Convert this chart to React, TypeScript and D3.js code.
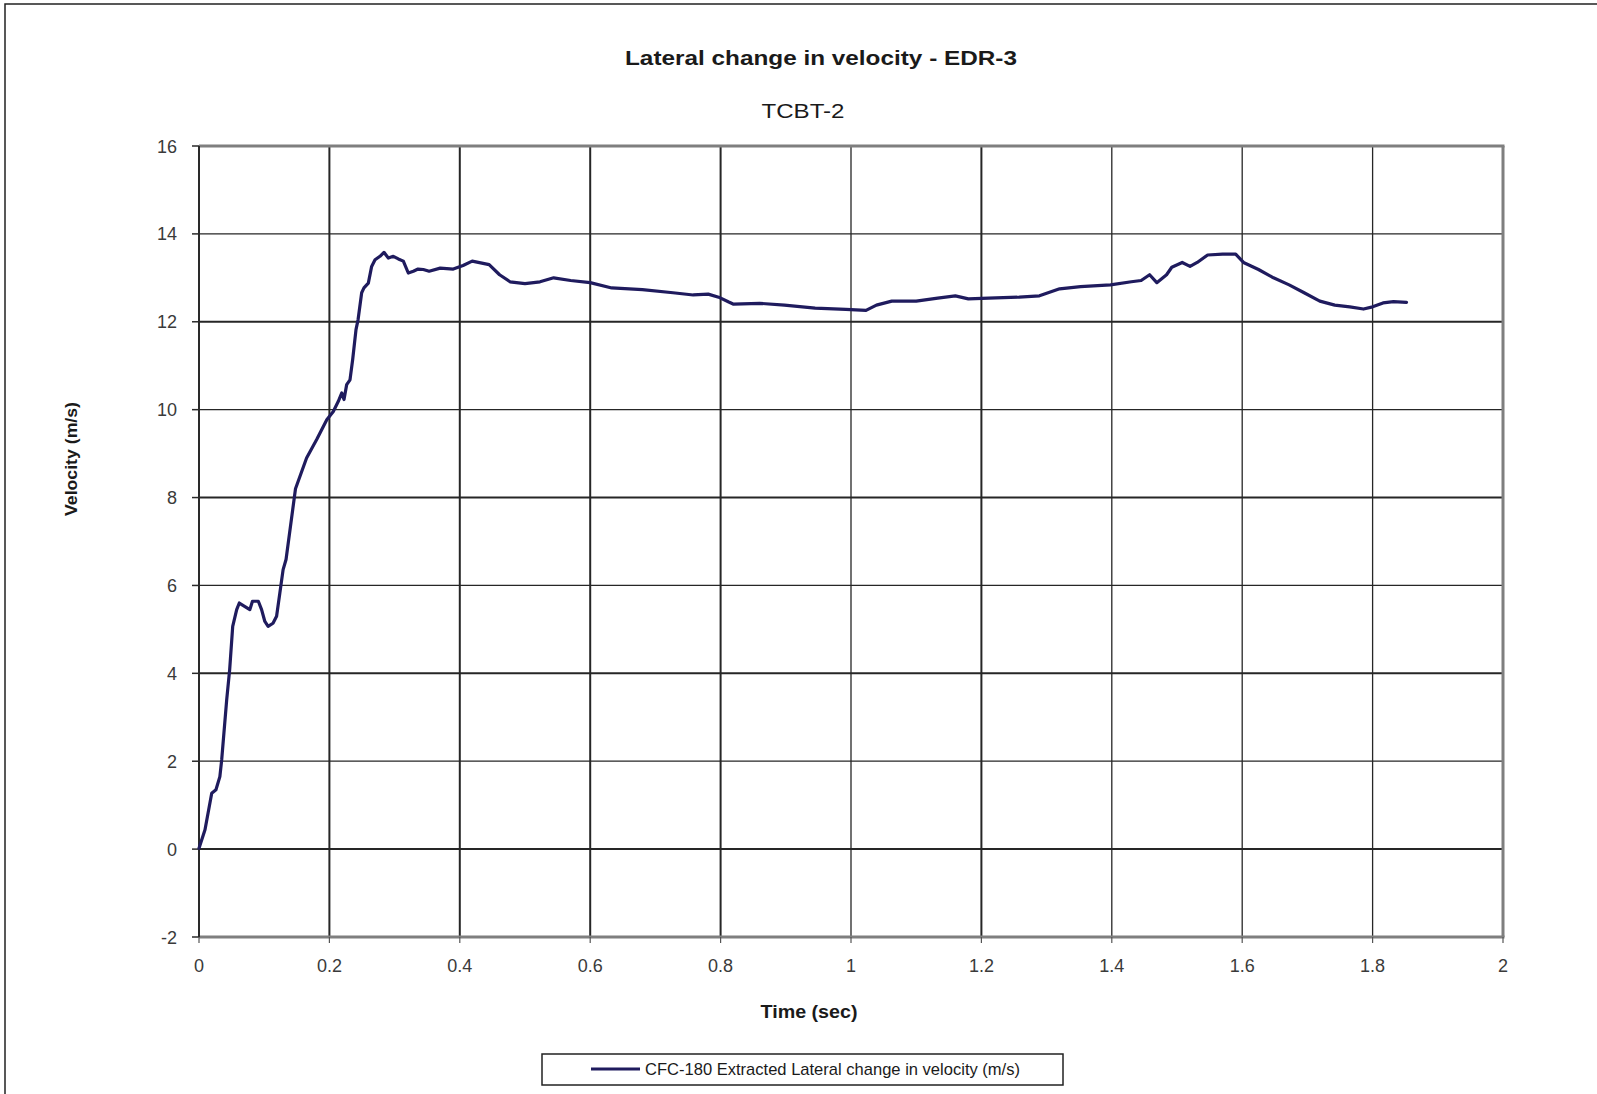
import React from "react";
import * as d3 from "d3";

const TITLE = "Lateral change in velocity - EDR-3";
const SUBTITLE = "TCBT-2";
const X_LABEL = "Time (sec)";
const Y_LABEL = "Velocity (m/s)";
const SERIES_NAME = "CFC-180 Extracted Lateral change in velocity (m/s)";

const xTicks = [0, 0.2, 0.4, 0.6, 0.8, 1, 1.2, 1.4, 1.6, 1.8, 2];
const yTicks = [-2, 0, 2, 4, 6, 8, 10, 12, 14, 16];

const timeSec = [
  0, 0.0092, 0.0195, 0.026, 0.032, 0.0348, 0.0425, 0.047, 0.0517, 0.0578, 0.0618,
  0.0705, 0.078, 0.082, 0.091, 0.096, 0.101, 0.106, 0.1135, 0.119, 0.124, 0.129,
  0.1335, 0.148, 0.165, 0.1805, 0.196, 0.206, 0.2137, 0.219, 0.2224, 0.2265, 0.2316,
  0.2357, 0.2408, 0.244, 0.2495, 0.253, 0.2597, 0.2648, 0.27, 0.2776, 0.2837, 0.2904,
  0.298, 0.3057, 0.3134, 0.321, 0.3287, 0.336, 0.344, 0.353, 0.37, 0.39, 0.405,
  0.419, 0.445, 0.461, 0.477, 0.5, 0.523, 0.544, 0.57, 0.6, 0.633, 0.68, 0.727,
  0.758, 0.781, 0.797, 0.8125, 0.82, 0.86, 0.898, 0.945, 0.992, 1.023, 1.039, 1.0625,
  1.1, 1.133, 1.16, 1.18, 1.211, 1.258, 1.289, 1.32, 1.352, 1.398, 1.43, 1.445,
  1.458, 1.469, 1.484, 1.492, 1.508, 1.52, 1.531, 1.547, 1.57, 1.59, 1.602, 1.625,
  1.648, 1.672, 1.695, 1.719, 1.742, 1.765, 1.786, 1.8, 1.816, 1.832, 1.852,
];

const velocity = [
  0.02, 0.44, 1.27, 1.35, 1.65, 2.03, 3.4, 4.08, 5.07, 5.45, 5.6,
  5.52, 5.45, 5.64, 5.64, 5.45, 5.18, 5.07, 5.14, 5.3, 5.83, 6.36,
  6.59, 8.2, 8.9, 9.32, 9.77, 9.96, 10.19, 10.38, 10.23, 10.57, 10.68,
  11.14, 11.82, 12.05, 12.66, 12.77, 12.88, 13.26, 13.41, 13.49, 13.58, 13.45,
  13.49, 13.43, 13.38, 13.11, 13.15, 13.2, 13.19, 13.15, 13.22, 13.2, 13.28,
  13.38, 13.3, 13.07, 12.91, 12.87, 12.91, 13.0, 12.94, 12.89, 12.77, 12.73, 12.66,
  12.61, 12.63, 12.56, 12.45, 12.4, 12.42, 12.38, 12.31, 12.28, 12.26, 12.38, 12.47,
  12.47, 12.54, 12.59, 12.52, 12.54, 12.56, 12.59, 12.75, 12.8, 12.84, 12.91, 12.94,
  13.07, 12.89, 13.07, 13.24, 13.35, 13.26, 13.35, 13.52, 13.54, 13.54, 13.35, 13.19,
  13.0, 12.84, 12.66, 12.47, 12.38, 12.34, 12.29, 12.34, 12.43, 12.46, 12.44,
];

const W = 1597;
const H = 1094;
const PL = 199, PR = 1503, PT = 146, PB = 937;
const FONT = "'Liberation Sans', Arial, Helvetica, sans-serif";
const LINE_COLOR = "#1f1b5e";

export default function App() {
  const x = d3.scaleLinear().domain([0, 2]).range([PL, PR]);
  const y = d3.scaleLinear().domain([-2, 16]).range([PB, PT]);
  const pts = timeSec.map((t, i) => [t, velocity[i]] as [number, number]);
  const line = d3
    .line<[number, number]>()
    .x((d) => x(d[0]))
    .y((d) => y(d[1]));

  return (
    <svg
      width={W}
      height={H}
      style={{ position: "absolute", left: 0, top: 0, background: "#fff" }}
      fontFamily={FONT}
    >
      <rect x={0} y={0} width={W} height={H} fill="#fff" />
      {/* outer chart border */}
      <rect x={5} y={4} width={W + 20} height={H + 20} fill="none" stroke="#222" strokeWidth={1.5} />

      {/* titles */}
      <text x={821} y={65} textAnchor="middle" fontWeight="bold" fontSize={20} fill="#1a1a1a"
        textLength={392} lengthAdjust="spacingAndGlyphs">{TITLE}</text>
      <text x={803} y={118} textAnchor="middle" fontSize={21} fill="#1a1a1a"
        textLength={83} lengthAdjust="spacingAndGlyphs">{SUBTITLE}</text>

      {/* horizontal gridlines */}
      {yTicks.filter((v) => v > -2 && v < 16).map((v) => (
        <line key={"hy" + v} x1={PL} x2={PR} y1={y(v)} y2={y(v)} stroke="#262626" strokeWidth={v % 4 === 2 ? 1.3 : 2} />
      ))}
      {/* vertical gridlines */}
      {xTicks.filter((t) => t > 0 && t < 2).map((t) => (
        <line key={"vx" + t} x1={x(t)} x2={x(t)} y1={PT} y2={PB} stroke="#262626" strokeWidth={t < 0.9 || Math.abs(t - 1.2) < 0.01 ? 2 : 1.3} />
      ))}

      {/* plot frame */}
      <line x1={PL} x2={PR + 1.5} y1={PT} y2={PT} stroke="#7f7f7f" strokeWidth={3} />
      <line x1={PR} x2={PR} y1={PT} y2={PB} stroke="#7f7f7f" strokeWidth={3} />
      <line x1={PL} x2={PR + 1.5} y1={PB} y2={PB} stroke="#7f7f7f" strokeWidth={3} />
      <line x1={PL} x2={PL} y1={PT} y2={PB} stroke="#2a2a2a" strokeWidth={2} />

      {/* y ticks & labels */}
      {yTicks.map((v) => (
        <g key={"yt" + v}>
          <line x1={PL - 7} x2={PL} y1={y(v)} y2={y(v)} stroke="#2a2a2a" strokeWidth={1.5} />
          <text x={177} y={y(v) + 6.5} textAnchor="end" fontSize={18} fill="#3a3a3a">{v}</text>
        </g>
      ))}
      {/* x tick labels */}
      {xTicks.map((t) => (
        <g key={"xt" + t}>
          <line x1={x(t)} x2={x(t)} y1={PB} y2={PB + 6} stroke="#555" strokeWidth={1.2} />
          <text x={x(t)} y={972} textAnchor="middle" fontSize={18} fill="#3a3a3a">{d3.format("")(t)}</text>
        </g>
      ))}

      {/* axis titles */}
      <text x={809} y={1018} textAnchor="middle" fontWeight="bold" fontSize={18} fill="#1a1a1a"
        textLength={97} lengthAdjust="spacingAndGlyphs">{X_LABEL}</text>
      <text transform={`translate(77,459) rotate(-90)`} textAnchor="middle" fontWeight="bold" fontSize={17} fill="#1a1a1a"
        textLength={114} lengthAdjust="spacingAndGlyphs">{Y_LABEL}</text>

      {/* data line */}
      <path d={line(pts) || ""} fill="none" stroke={LINE_COLOR} strokeWidth={3.2} strokeLinejoin="round" strokeLinecap="round" />

      {/* legend */}
      <rect x={542} y={1054} width={521} height={31} fill="#fff" stroke="#222" strokeWidth={1.5} />
      <line x1={591} x2={640} y1={1069} y2={1069} stroke={LINE_COLOR} strokeWidth={3} />
      <text x={645} y={1075} fontSize={17} fill="#1a1a1a" textLength={375} lengthAdjust="spacingAndGlyphs">{SERIES_NAME}</text>
    </svg>
  );
}
